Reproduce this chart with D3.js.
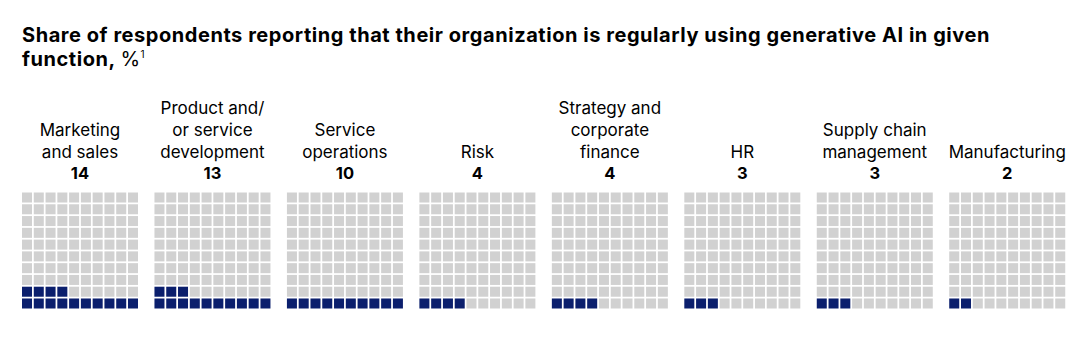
<!DOCTYPE html>
<html>
<head>
<meta charset="utf-8">
<script src="https://cdn.jsdelivr.net/npm/d3@7"></script>
<style>
  html, body { margin: 0; padding: 0; background: #fff; }
  svg { display: block; }
  text { font-family: "Inter", "Liberation Sans", Arial, sans-serif; fill: #000; }
</style>
</head>
<body>
<svg id="chart" width="1080" height="345"></svg>
<script>
// Business functions (label lines) and share of respondents, %
const functionLabels = [
  ["Marketing", "and sales"],
  ["Product and/", "or service", "development"],
  ["Service", "operations"],
  ["Risk"],
  ["Strategy and", "corporate", "finance"],
  ["HR"],
  ["Supply chain", "management"],
  ["Manufacturing"]
];
const shareValues = [14, 13, 10, 4, 4, 3, 3, 2];

const titleLines = [
  "Share of respondents reporting that their organization is regularly using generative AI in given",
  "function, "
];

const W = 1080, H = 345;
const svg = d3.select("#chart");

// Title
const title = svg.append("text").attr("x", 22).attr("y", 42)
  .style("font-size", "20px").style("font-weight", "700")
  .style("letter-spacing", "0.55px");
title.append("tspan").attr("x", 22).text(titleLines[0]);
title.append("tspan").attr("x", 22).attr("dy", 23.5).text(titleLines[1]);
title.append("tspan").style("font-weight", "400").text("%");
title.append("tspan").style("font-weight", "400").style("font-size", "10px")
  .attr("dy", -8).text("1");

// Layout of the small multiples
const gridSize = 116;
const x = d3.scaleBand()
  .domain(d3.range(functionLabels.length))
  .range([22, 1065])
  .paddingInner((1065 - 22 - 8 * gridSize) / (1065 - 22) * 8 / 7);

const cells = d3.range(10);
const cx = d3.scaleBand().domain(cells).range([0, gridSize]).paddingInner(0.15);
const cy = d3.scaleBand().domain(cells).range([gridSize, 0]).paddingInner(0.15);

const gridTop = 192.5;
const numberBaseline = 179;
const labelLineHeight = 22;

const panels = svg.selectAll("g.panel")
  .data(functionLabels.map((lines, i) => ({ lines, value: shareValues[i], i })))
  .join("g")
  .attr("class", "panel")
  .attr("transform", d => `translate(${x(d.i)},0)`);

// Function name, stacked upward from the value line
panels.each(function (d) {
  const g = d3.select(this);
  const n = d.lines.length;
  d.lines.forEach((line, k) => {
    g.append("text")
      .attr("x", gridSize / 2)
      .attr("y", numberBaseline - 21.5 - (n - 1 - k) * labelLineHeight)
      .attr("text-anchor", "middle")
      .style("font-size", "17px")
      .text(line);
  });
  g.append("text")
    .attr("x", gridSize / 2)
    .attr("y", numberBaseline)
    .attr("text-anchor", "middle")
    .style("font-size", "16.5px")
    .style("font-weight", "700")
    .text(d.value);
});

// 10 x 10 waffle: filled from the bottom row, left to right
panels.append("g")
  .attr("transform", `translate(0,${gridTop})`)
  .selectAll("rect")
  .data(d => d3.range(100).map(k => ({ k, on: k < d.value })))
  .join("rect")
  .attr("x", c => cx(c.k % 10))
  .attr("y", c => cy(Math.floor(c.k / 10)))
  .attr("width", cx.bandwidth())
  .attr("height", cy.bandwidth())
  .attr("fill", c => c.on ? "#0b1f6d" : "#d1d1d1");
</script>
</body>
</html>
